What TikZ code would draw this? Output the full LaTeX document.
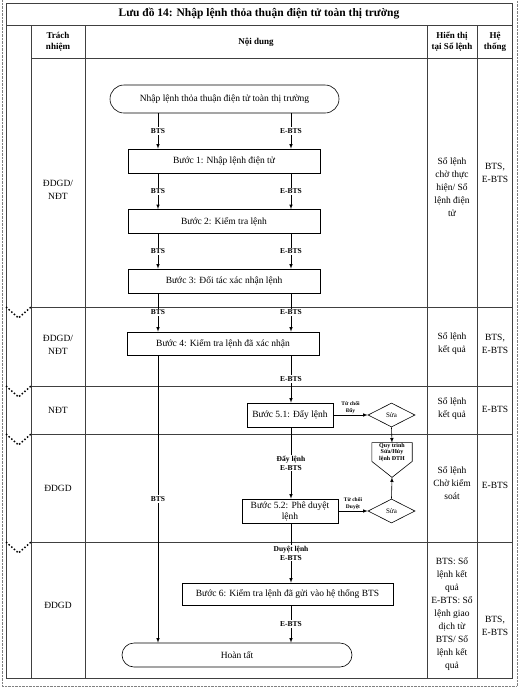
\documentclass[tikz,border=0pt]{standalone}
\usepackage{fontspec}
\setmainfont{Liberation Serif}
\usetikzlibrary{shapes.geometric,positioning}

\begin{document}
\begin{tikzpicture}
[
    x=1pt, y=-1pt, >=latex,
    grid/.style={line width=0.8pt, black!75},
    stepbox/.style={draw, line width=0.6pt, minimum height=24pt, inner sep=2pt, align=center, font=\fontsize{9.5}{11}\selectfont},
    terminal/.style={draw, line width=0.6pt, rounded corners=12pt, minimum height=24pt, font=\fontsize{9.5}{11}\selectfont},
    fixbox/.style={draw, line width=0.6pt, diamond, aspect=2, minimum width=47pt, minimum height=24pt, inner sep=0pt, font=\fontsize{7}{8}\selectfont},
    lane/.style={fill=white, inner sep=1pt, align=center, font=\bfseries\fontsize{7.5}{9}\selectfont},
    note/.style={above, inner sep=1.5pt, align=center, font=\bfseries\fontsize{5.5}{7}\selectfont},
    flow/.style={->, line width=0.6pt},
    cell/.style={align=center, font=\fontsize{9.5}{13}\selectfont},
    head/.style={align=center, font=\bfseries\fontsize{9}{11}\selectfont}
]
    \useasboundingbox (0,0) rectangle (521,689);

    % frame of the page
    \draw[densely dotted, gray] (2,0) -- (2,686) -- (517,686) -- (517,0);

    % table
    \draw[grid] (6,3) rectangle (512,678);
    \draw[grid] (6,25) -- (512,25);
    \draw[grid] (31,58) -- (512,58);
    \foreach \x in {31,85,427,477}
        \draw[grid] (\x,25) -- (\x,678);
    \foreach \y in {307,386,434,542} {
        \draw[grid] (31,\y) -- (512,\y);
        \draw[dotted, line width=1.5pt] (6,\y) -- (18.5,\y+11) -- (31,\y);
    }

    \node (title) at (259,14) [font=\bfseries\fontsize{11.5}{13}\selectfont]
        {Lưu đồ 14: Nhập lệnh thỏa thuận điện tử toàn thị trường};
    \node (hwho) at (58,42) [head] {Trách\\nhiệm};
    \node (hwhat) at (256,42) [head] {Nội dung};
    \node (hbook) at (452,42) [head] {Hiển thị\\tại Sổ lệnh};
    \node (hsys) at (495,42) [head] {Hệ\\thống};

    % rows
    \node (who1) at (58,190) [cell] {ĐDGD/\\NĐT};
    \node (book1) at (452,187) [cell] {Sổ lệnh\\chờ thực\\hiện/ Sổ\\lệnh điện\\tử};
    \node (sys1) at (495,173) [cell] {BTS,\\E-BTS};
    \node (who2) at (58,345) [cell] {ĐDGD/\\NĐT};
    \node (book2) at (452,344) [cell] {Sổ lệnh\\kết quả};
    \node (sys2) at (495,344) [cell] {BTS,\\E-BTS};
    \node (who3) at (58,410) [cell] {NĐT};
    \node (book3) at (452,409) [cell] {Sổ lệnh\\kết quả};
    \node (sys3) at (495,409) [cell] {E-BTS};
    \node (who4) at (58,488) [cell] {ĐDGD};
    \node (book4) at (452,483) [cell] {Sổ lệnh\\Chờ kiểm\\soát};
    \node (sys4) at (495,485) [cell] {E-BTS};
    \node (who5) at (58,605) [cell] {ĐDGD};
    \node (book5) at (452,614) [cell] {BTS: Sổ\\lệnh kết\\quả\\E-BTS: Sổ\\lệnh giao\\dịch từ\\BTS/ Sổ\\lệnh kết\\quả};
    \node (sys5) at (495,626) [cell] {BTS,\\E-BTS};

    % flow
    \coordinate (bts) at (158,0);
    \coordinate (ebts) at (291,0);

    \node (start) at (224.5,99) [terminal, minimum width=229pt, minimum height=28pt, rounded corners=14pt]
        {Nhập lệnh thỏa thuận điện tử toàn thị trường};
    \node (step1) at (224,161) [stepbox, minimum width=192pt] {Bước 1: Nhập lệnh điện tử};
    \node (step2) at (224,221.5) [stepbox, minimum width=192pt] {Bước 2: Kiểm tra lệnh};
    \node (step3) at (224,281) [stepbox, minimum width=192pt] {Bước 3: Đối tác xác nhận lệnh};
    \node (step4) at (223,343.5) [stepbox, minimum width=192pt, minimum height=23pt] {Bước 4: Kiểm tra lệnh đã xác nhận};
    \node (step51) at (290,415) [stepbox, minimum width=86pt] {Bước 5.1: Đẩy lệnh};
    \node (step52) at (290,511) [stepbox, minimum width=96pt, inner sep=1pt] {Bước 5.2: Phê duyệt\\lệnh};
    \node (step6) at (287.5,594) [stepbox, minimum width=211pt, minimum height=22pt] {Bước 6: Kiểm tra lệnh đã gửi vào hệ thống BTS};
    \node (done) at (237,655) [terminal, minimum width=230pt] {Hoàn tất};

    \node (fix1) at (391.5,415) [fixbox] {Sửa};
    \node (fix2) at (391.5,511) [fixbox] {Sửa};
    \node (redo) at (392,452) [minimum width=40pt, minimum height=18pt, inner sep=0pt, align=center, font=\bfseries\fontsize{6}{6.5}\selectfont]
        {Quy trình\\Sửa/Hủy\\lệnh ĐTH};
    \coordinate[below=16pt of redo.south] (redotip);
    \draw[line width=0.6pt] (redo.north west) -- (redo.north east) -- (redo.south east) -- (redotip) -- (redo.south west) -- cycle;

    \draw[flow] (start.south -| bts) -- node[lane] {BTS} (step1.north -| bts);
    \draw[flow] (start.south -| ebts) -- node[lane] {E-BTS} (step1.north -| ebts);
    \draw[flow] (step1.south -| bts) -- node[lane] {BTS} (step2.north -| bts);
    \draw[flow] (step1.south -| ebts) -- node[lane] {E-BTS} (step2.north -| ebts);
    \draw[flow] (step2.south -| bts) -- node[lane] {BTS} (step3.north -| bts);
    \draw[flow] (step2.south -| ebts) -- node[lane] {E-BTS} (step3.north -| ebts);
    \draw[flow] (step3.south -| bts) -- node[lane] {BTS} (step4.north -| bts);
    \draw[flow] (step3.south -| ebts) -- node[lane] {E-BTS} (step4.north -| ebts);
    \draw[flow] (step4.south -| bts) -- node[lane] {BTS} (done.north -| bts);
    \draw[flow] (step4.south -| ebts) -- node[lane] {E-BTS} (step51.north -| ebts);
    \draw[flow] (step51.south -| ebts) -- node[lane] {Đẩy lệnh\\E-BTS} (step52.north -| ebts);
    \draw[flow] (step52.south -| ebts) -- node[lane] {Duyệt lệnh\\E-BTS} (step6.north -| ebts);
    \draw[flow] (step6.south -| ebts) -- node[lane] {E-BTS} (done.north -| ebts);

    \draw[flow] (step51.east) -- node[note] {Từ chối\\Đẩy} (fix1.west);
    \draw[flow] (step52.east) -- node[note] {Từ chối\\Duyệt} (fix2.west);
    \draw[flow] (fix1.south) -- (redo.north);
    \draw[flow] (fix2.north) -- (redotip);
\end{tikzpicture}
\end{document}
